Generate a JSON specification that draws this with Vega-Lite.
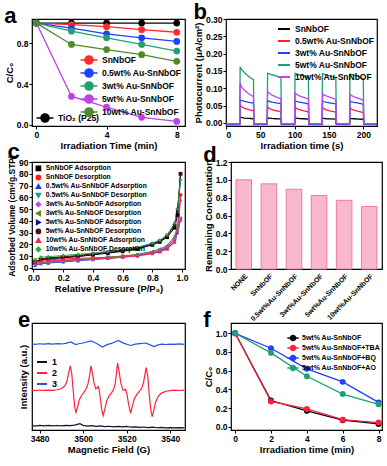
{
"$schema":"https://vega.github.io/schema/vega-lite/v6.json",
"padding":{"left":3,"top":0,"right":2,"bottom":0},
"background":"white",
"config":{
 "view":{"stroke":"black","strokeWidth":1.2},
 "axis":{"labelFont":"Liberation Sans","titleFont":"Liberation Sans","labelFontWeight":"bold","titleFontWeight":"bold","labelFontSize":8.5,"titleFontSize":9.5,"labelColor":"black","titleColor":"black","tickColor":"black","domain":false,"grid":false,"tickSize":3,"labelPadding":1,"titlePadding":2},
 "legend":{"labelFont":"Liberation Sans","labelFontWeight":"bold","labelColor":"black","labelFontSize":8,"orient":"none","title":null},
 "title":{"font":"Liberation Sans","fontSize":22,"fontWeight":"bold","anchor":"start","frame":"bounds","offset":-9,"color":"black"}
},
"datasets":{
 "a":[
  {"s":"SnNbOF","t":0,"v":1},{"s":"SnNbOF","t":2,"v":0.985},{"s":"SnNbOF","t":4,"v":0.965},{"s":"SnNbOF","t":6,"v":0.935},{"s":"SnNbOF","t":8,"v":0.91},
  {"s":"0.5wt%","t":0,"v":1},{"s":"0.5wt%","t":2,"v":0.95},{"s":"0.5wt%","t":4,"v":0.895},{"s":"0.5wt%","t":6,"v":0.855},{"s":"0.5wt%","t":8,"v":0.82},
  {"s":"3wt%","t":0,"v":1},{"s":"3wt%","t":2,"v":0.92},{"s":"3wt%","t":4,"v":0.855},{"s":"3wt%","t":6,"v":0.79},{"s":"3wt%","t":8,"v":0.725},
  {"s":"5wt%","t":0,"v":1},{"s":"5wt%","t":2,"v":0.28},{"s":"5wt%","t":4,"v":0.175},{"s":"5wt%","t":6,"v":0.075},{"s":"5wt%","t":8,"v":0.035},
  {"s":"10wt%","t":0,"v":1},{"s":"10wt%","t":2,"v":0.79},{"s":"10wt%","t":4,"v":0.74},{"s":"10wt%","t":6,"v":0.69},{"s":"10wt%","t":8,"v":0.625}
 ],
 "a2":[
  {"s":"TiO₂ (P25)","t":0,"v":1},{"s":"TiO₂ (P25)","t":2,"v":1},{"s":"TiO₂ (P25)","t":4,"v":1},{"s":"TiO₂ (P25)","t":6,"v":1},{"s":"TiO₂ (P25)","t":8,"v":1}
 ],
 "b":[
  {"s":"SnNbOF","t":0,"v":-0.003},{"s":"SnNbOF","t":20,"v":-0.003},{"s":"SnNbOF","t":20.6,"v":0.018},{"s":"SnNbOF","t":22.5,"v":0.016},{"s":"SnNbOF","t":27,"v":0.014},{"s":"SnNbOF","t":33,"v":0.013},{"s":"SnNbOF","t":40,"v":0.012},{"s":"SnNbOF","t":40.8,"v":-0.003},
  {"s":"SnNbOF","t":60,"v":-0.003},{"s":"SnNbOF","t":60.6,"v":0.015},{"s":"SnNbOF","t":62.5,"v":0.014},{"s":"SnNbOF","t":67,"v":0.013},{"s":"SnNbOF","t":73,"v":0.012},{"s":"SnNbOF","t":80,"v":0.0115},{"s":"SnNbOF","t":80.8,"v":-0.003},
  {"s":"SnNbOF","t":100,"v":-0.003},{"s":"SnNbOF","t":100.6,"v":0.014},{"s":"SnNbOF","t":102.5,"v":0.0135},{"s":"SnNbOF","t":107,"v":0.0125},{"s":"SnNbOF","t":113,"v":0.012},{"s":"SnNbOF","t":120,"v":0.011},{"s":"SnNbOF","t":120.8,"v":-0.003},
  {"s":"SnNbOF","t":140,"v":-0.003},{"s":"SnNbOF","t":140.6,"v":0.014},{"s":"SnNbOF","t":142.5,"v":0.013},{"s":"SnNbOF","t":147,"v":0.012},{"s":"SnNbOF","t":153,"v":0.0115},{"s":"SnNbOF","t":160,"v":0.011},{"s":"SnNbOF","t":160.8,"v":-0.003},
  {"s":"SnNbOF","t":180,"v":-0.003},{"s":"SnNbOF","t":180.6,"v":0.013},{"s":"SnNbOF","t":182.5,"v":0.0125},{"s":"SnNbOF","t":187,"v":0.012},{"s":"SnNbOF","t":193,"v":0.011},{"s":"SnNbOF","t":200,"v":0.0105},{"s":"SnNbOF","t":200.8,"v":-0.003},{"s":"SnNbOF","t":220,"v":-0.003},
  {"s":"0.5wt%","t":0,"v":-0.006},{"s":"0.5wt%","t":20,"v":-0.006},{"s":"0.5wt%","t":20.6,"v":0.052},{"s":"0.5wt%","t":22.5,"v":0.047},{"s":"0.5wt%","t":27,"v":0.042},{"s":"0.5wt%","t":33,"v":0.038},{"s":"0.5wt%","t":40,"v":0.035},{"s":"0.5wt%","t":40.8,"v":-0.005},
  {"s":"0.5wt%","t":60,"v":-0.005},{"s":"0.5wt%","t":60.6,"v":0.046},{"s":"0.5wt%","t":62.5,"v":0.042},{"s":"0.5wt%","t":67,"v":0.038},{"s":"0.5wt%","t":73,"v":0.035},{"s":"0.5wt%","t":80,"v":0.033},{"s":"0.5wt%","t":80.8,"v":-0.005},
  {"s":"0.5wt%","t":100,"v":-0.005},{"s":"0.5wt%","t":100.6,"v":0.046},{"s":"0.5wt%","t":102.5,"v":0.042},{"s":"0.5wt%","t":107,"v":0.038},{"s":"0.5wt%","t":113,"v":0.035},{"s":"0.5wt%","t":120,"v":0.032},{"s":"0.5wt%","t":120.8,"v":-0.005},
  {"s":"0.5wt%","t":140,"v":-0.005},{"s":"0.5wt%","t":140.6,"v":0.045},{"s":"0.5wt%","t":142.5,"v":0.041},{"s":"0.5wt%","t":147,"v":0.037},{"s":"0.5wt%","t":153,"v":0.034},{"s":"0.5wt%","t":160,"v":0.031},{"s":"0.5wt%","t":160.8,"v":-0.005},
  {"s":"0.5wt%","t":180,"v":-0.005},{"s":"0.5wt%","t":180.6,"v":0.044},{"s":"0.5wt%","t":182.5,"v":0.04},{"s":"0.5wt%","t":187,"v":0.036},{"s":"0.5wt%","t":193,"v":0.033},{"s":"0.5wt%","t":200,"v":0.03},{"s":"0.5wt%","t":200.8,"v":-0.005},{"s":"0.5wt%","t":220,"v":-0.005},
  {"s":"3wt%","t":0,"v":-0.004},{"s":"3wt%","t":20,"v":-0.004},{"s":"3wt%","t":20.6,"v":0.067},{"s":"3wt%","t":22.5,"v":0.065},{"s":"3wt%","t":27,"v":0.062},{"s":"3wt%","t":33,"v":0.059},{"s":"3wt%","t":40,"v":0.057},{"s":"3wt%","t":40.8,"v":-0.004},
  {"s":"3wt%","t":60,"v":-0.004},{"s":"3wt%","t":60.6,"v":0.065},{"s":"3wt%","t":62.5,"v":0.062},{"s":"3wt%","t":67,"v":0.06},{"s":"3wt%","t":73,"v":0.058},{"s":"3wt%","t":80,"v":0.056},{"s":"3wt%","t":80.8,"v":-0.004},
  {"s":"3wt%","t":100,"v":-0.004},{"s":"3wt%","t":100.6,"v":0.064},{"s":"3wt%","t":102.5,"v":0.062},{"s":"3wt%","t":107,"v":0.06},{"s":"3wt%","t":113,"v":0.058},{"s":"3wt%","t":120,"v":0.055},{"s":"3wt%","t":120.8,"v":-0.004},
  {"s":"3wt%","t":140,"v":-0.004},{"s":"3wt%","t":140.6,"v":0.064},{"s":"3wt%","t":142.5,"v":0.061},{"s":"3wt%","t":147,"v":0.059},{"s":"3wt%","t":153,"v":0.057},{"s":"3wt%","t":160,"v":0.055},{"s":"3wt%","t":160.8,"v":-0.004},
  {"s":"3wt%","t":180,"v":-0.004},{"s":"3wt%","t":180.6,"v":0.063},{"s":"3wt%","t":182.5,"v":0.061},{"s":"3wt%","t":187,"v":0.059},{"s":"3wt%","t":193,"v":0.057},{"s":"3wt%","t":200,"v":0.054},{"s":"3wt%","t":200.8,"v":-0.004},{"s":"3wt%","t":220,"v":-0.004},
  {"s":"5wt%","t":0,"v":-0.002},{"s":"5wt%","t":20,"v":-0.002},{"s":"5wt%","t":20.6,"v":0.162},{"s":"5wt%","t":22.5,"v":0.155},{"s":"5wt%","t":27,"v":0.145},{"s":"5wt%","t":33,"v":0.134},{"s":"5wt%","t":40,"v":0.125},{"s":"5wt%","t":40.8,"v":-0.002},
  {"s":"5wt%","t":60,"v":-0.002},{"s":"5wt%","t":60.6,"v":0.143},{"s":"5wt%","t":62.5,"v":0.142},{"s":"5wt%","t":67,"v":0.139},{"s":"5wt%","t":73,"v":0.136},{"s":"5wt%","t":80,"v":0.131},{"s":"5wt%","t":80.8,"v":-0.002},
  {"s":"5wt%","t":100,"v":-0.002},{"s":"5wt%","t":100.6,"v":0.143},{"s":"5wt%","t":102.5,"v":0.142},{"s":"5wt%","t":107,"v":0.139},{"s":"5wt%","t":113,"v":0.136},{"s":"5wt%","t":120,"v":0.131},{"s":"5wt%","t":120.8,"v":-0.002},
  {"s":"5wt%","t":140,"v":-0.002},{"s":"5wt%","t":140.6,"v":0.142},{"s":"5wt%","t":142.5,"v":0.141},{"s":"5wt%","t":147,"v":0.138},{"s":"5wt%","t":153,"v":0.135},{"s":"5wt%","t":160,"v":0.13},{"s":"5wt%","t":160.8,"v":-0.002},
  {"s":"5wt%","t":180,"v":-0.002},{"s":"5wt%","t":180.6,"v":0.141},{"s":"5wt%","t":182.5,"v":0.14},{"s":"5wt%","t":187,"v":0.137},{"s":"5wt%","t":193,"v":0.134},{"s":"5wt%","t":200,"v":0.128},{"s":"5wt%","t":200.8,"v":-0.002},{"s":"5wt%","t":220,"v":-0.002},
  {"s":"10wt%","t":0,"v":-0.003},{"s":"10wt%","t":20,"v":-0.003},{"s":"10wt%","t":20.6,"v":0.115},{"s":"10wt%","t":22.5,"v":0.104},{"s":"10wt%","t":27,"v":0.094},{"s":"10wt%","t":33,"v":0.084},{"s":"10wt%","t":40,"v":0.076},{"s":"10wt%","t":40.8,"v":-0.003},
  {"s":"10wt%","t":60,"v":-0.003},{"s":"10wt%","t":60.6,"v":0.091},{"s":"10wt%","t":62.5,"v":0.086},{"s":"10wt%","t":67,"v":0.08},{"s":"10wt%","t":73,"v":0.075},{"s":"10wt%","t":80,"v":0.07},{"s":"10wt%","t":80.8,"v":-0.003},
  {"s":"10wt%","t":100,"v":-0.003},{"s":"10wt%","t":100.6,"v":0.087},{"s":"10wt%","t":102.5,"v":0.083},{"s":"10wt%","t":107,"v":0.078},{"s":"10wt%","t":113,"v":0.074},{"s":"10wt%","t":120,"v":0.069},{"s":"10wt%","t":120.8,"v":-0.003},
  {"s":"10wt%","t":140,"v":-0.003},{"s":"10wt%","t":140.6,"v":0.085},{"s":"10wt%","t":142.5,"v":0.081},{"s":"10wt%","t":147,"v":0.077},{"s":"10wt%","t":153,"v":0.073},{"s":"10wt%","t":160,"v":0.068},{"s":"10wt%","t":160.8,"v":-0.003},
  {"s":"10wt%","t":180,"v":-0.003},{"s":"10wt%","t":180.6,"v":0.083},{"s":"10wt%","t":182.5,"v":0.079},{"s":"10wt%","t":187,"v":0.075},{"s":"10wt%","t":193,"v":0.071},{"s":"10wt%","t":200,"v":0.066},{"s":"10wt%","t":200.8,"v":-0.003},{"s":"10wt%","t":220,"v":-0.003}
 ],
 "c":[
  {"s":"SnNbOF Adsorption","p":0.01,"v":4},{"s":"SnNbOF Adsorption","p":0.05,"v":6.5},{"s":"SnNbOF Adsorption","p":0.1,"v":7.5},{"s":"SnNbOF Adsorption","p":0.2,"v":8.5},{"s":"SnNbOF Adsorption","p":0.3,"v":9.5},{"s":"SnNbOF Adsorption","p":0.4,"v":11},{"s":"SnNbOF Adsorption","p":0.5,"v":12.5},{"s":"SnNbOF Adsorption","p":0.6,"v":14},{"s":"SnNbOF Adsorption","p":0.7,"v":16},{"s":"SnNbOF Adsorption","p":0.8,"v":19.5},{"s":"SnNbOF Adsorption","p":0.85,"v":22},{"s":"SnNbOF Adsorption","p":0.9,"v":26},{"s":"SnNbOF Adsorption","p":0.95,"v":34},{"s":"SnNbOF Adsorption","p":0.97,"v":45},{"s":"SnNbOF Adsorption","p":0.99,"v":80},
  {"s":"SnNbOF Desorption","p":0.01,"v":6},{"s":"SnNbOF Desorption","p":0.05,"v":6.5},{"s":"SnNbOF Desorption","p":0.1,"v":7},{"s":"SnNbOF Desorption","p":0.2,"v":7.5},{"s":"SnNbOF Desorption","p":0.3,"v":8},{"s":"SnNbOF Desorption","p":0.4,"v":8.5},{"s":"SnNbOF Desorption","p":0.5,"v":9},{"s":"SnNbOF Desorption","p":0.6,"v":10},{"s":"SnNbOF Desorption","p":0.7,"v":11},{"s":"SnNbOF Desorption","p":0.8,"v":13},{"s":"SnNbOF Desorption","p":0.85,"v":14.5},{"s":"SnNbOF Desorption","p":0.9,"v":17},{"s":"SnNbOF Desorption","p":0.95,"v":24},{"s":"SnNbOF Desorption","p":0.97,"v":35},{"s":"SnNbOF Desorption","p":0.99,"v":62},
  {"s":"0.5wt% Au-SnNbOF Adsorption","p":0.01,"v":2},{"s":"0.5wt% Au-SnNbOF Adsorption","p":0.05,"v":3.5},{"s":"0.5wt% Au-SnNbOF Adsorption","p":0.1,"v":4},{"s":"0.5wt% Au-SnNbOF Adsorption","p":0.2,"v":5},{"s":"0.5wt% Au-SnNbOF Adsorption","p":0.3,"v":6},{"s":"0.5wt% Au-SnNbOF Adsorption","p":0.4,"v":7},{"s":"0.5wt% Au-SnNbOF Adsorption","p":0.5,"v":8},{"s":"0.5wt% Au-SnNbOF Adsorption","p":0.6,"v":9},{"s":"0.5wt% Au-SnNbOF Adsorption","p":0.7,"v":10.5},{"s":"0.5wt% Au-SnNbOF Adsorption","p":0.8,"v":12.5},{"s":"0.5wt% Au-SnNbOF Adsorption","p":0.85,"v":14},{"s":"0.5wt% Au-SnNbOF Adsorption","p":0.9,"v":16.5},{"s":"0.5wt% Au-SnNbOF Adsorption","p":0.95,"v":22},{"s":"0.5wt% Au-SnNbOF Adsorption","p":0.97,"v":30},{"s":"0.5wt% Au-SnNbOF Adsorption","p":0.99,"v":41},
  {"s":"0.5wt% Au-SnNbOF Desorption","p":0.01,"v":2.5},{"s":"0.5wt% Au-SnNbOF Desorption","p":0.05,"v":4},{"s":"0.5wt% Au-SnNbOF Desorption","p":0.1,"v":4.5},{"s":"0.5wt% Au-SnNbOF Desorption","p":0.2,"v":5.5},{"s":"0.5wt% Au-SnNbOF Desorption","p":0.3,"v":6.5},{"s":"0.5wt% Au-SnNbOF Desorption","p":0.4,"v":7.5},{"s":"0.5wt% Au-SnNbOF Desorption","p":0.5,"v":8.5},{"s":"0.5wt% Au-SnNbOF Desorption","p":0.6,"v":9.5},{"s":"0.5wt% Au-SnNbOF Desorption","p":0.7,"v":11},{"s":"0.5wt% Au-SnNbOF Desorption","p":0.8,"v":13},{"s":"0.5wt% Au-SnNbOF Desorption","p":0.85,"v":15},{"s":"0.5wt% Au-SnNbOF Desorption","p":0.9,"v":18},{"s":"0.5wt% Au-SnNbOF Desorption","p":0.95,"v":24},{"s":"0.5wt% Au-SnNbOF Desorption","p":0.97,"v":32},{"s":"0.5wt% Au-SnNbOF Desorption","p":0.99,"v":42},
  {"s":"3wt% Au-SnNbOF Adsorption","p":0.01,"v":3},{"s":"3wt% Au-SnNbOF Adsorption","p":0.05,"v":4},{"s":"3wt% Au-SnNbOF Adsorption","p":0.1,"v":5},{"s":"3wt% Au-SnNbOF Adsorption","p":0.2,"v":6},{"s":"3wt% Au-SnNbOF Adsorption","p":0.3,"v":6.5},{"s":"3wt% Au-SnNbOF Adsorption","p":0.4,"v":7.5},{"s":"3wt% Au-SnNbOF Adsorption","p":0.5,"v":8.5},{"s":"3wt% Au-SnNbOF Adsorption","p":0.6,"v":9.5},{"s":"3wt% Au-SnNbOF Adsorption","p":0.7,"v":11},{"s":"3wt% Au-SnNbOF Adsorption","p":0.8,"v":13},{"s":"3wt% Au-SnNbOF Adsorption","p":0.85,"v":15},{"s":"3wt% Au-SnNbOF Adsorption","p":0.9,"v":18},{"s":"3wt% Au-SnNbOF Adsorption","p":0.95,"v":25},{"s":"3wt% Au-SnNbOF Adsorption","p":0.97,"v":35},{"s":"3wt% Au-SnNbOF Adsorption","p":0.99,"v":40},
  {"s":"3wt% Au-SnNbOF Desorption","p":0.01,"v":3.5},{"s":"3wt% Au-SnNbOF Desorption","p":0.05,"v":4.5},{"s":"3wt% Au-SnNbOF Desorption","p":0.1,"v":5},{"s":"3wt% Au-SnNbOF Desorption","p":0.2,"v":6},{"s":"3wt% Au-SnNbOF Desorption","p":0.3,"v":7},{"s":"3wt% Au-SnNbOF Desorption","p":0.4,"v":8},{"s":"3wt% Au-SnNbOF Desorption","p":0.5,"v":9},{"s":"3wt% Au-SnNbOF Desorption","p":0.6,"v":10},{"s":"3wt% Au-SnNbOF Desorption","p":0.7,"v":11.5},{"s":"3wt% Au-SnNbOF Desorption","p":0.8,"v":14},{"s":"3wt% Au-SnNbOF Desorption","p":0.85,"v":16},{"s":"3wt% Au-SnNbOF Desorption","p":0.9,"v":19},{"s":"3wt% Au-SnNbOF Desorption","p":0.95,"v":27},{"s":"3wt% Au-SnNbOF Desorption","p":0.97,"v":35},{"s":"3wt% Au-SnNbOF Desorption","p":0.99,"v":42},
  {"s":"5wt% Au-SnNbOF Adsorption","p":0.01,"v":4.5},{"s":"5wt% Au-SnNbOF Adsorption","p":0.05,"v":7},{"s":"5wt% Au-SnNbOF Adsorption","p":0.1,"v":8},{"s":"5wt% Au-SnNbOF Adsorption","p":0.2,"v":9},{"s":"5wt% Au-SnNbOF Adsorption","p":0.3,"v":10},{"s":"5wt% Au-SnNbOF Adsorption","p":0.4,"v":11.5},{"s":"5wt% Au-SnNbOF Adsorption","p":0.5,"v":13},{"s":"5wt% Au-SnNbOF Adsorption","p":0.6,"v":14.5},{"s":"5wt% Au-SnNbOF Adsorption","p":0.7,"v":16.5},{"s":"5wt% Au-SnNbOF Adsorption","p":0.8,"v":20},{"s":"5wt% Au-SnNbOF Adsorption","p":0.85,"v":22.5},{"s":"5wt% Au-SnNbOF Adsorption","p":0.9,"v":27},{"s":"5wt% Au-SnNbOF Adsorption","p":0.95,"v":36},{"s":"5wt% Au-SnNbOF Adsorption","p":0.97,"v":48},{"s":"5wt% Au-SnNbOF Adsorption","p":0.99,"v":75},
  {"s":"5wt% Au-SnNbOF Desorption","p":0.01,"v":5},{"s":"5wt% Au-SnNbOF Desorption","p":0.05,"v":7.5},{"s":"5wt% Au-SnNbOF Desorption","p":0.1,"v":8.5},{"s":"5wt% Au-SnNbOF Desorption","p":0.2,"v":9.5},{"s":"5wt% Au-SnNbOF Desorption","p":0.3,"v":10.5},{"s":"5wt% Au-SnNbOF Desorption","p":0.4,"v":12},{"s":"5wt% Au-SnNbOF Desorption","p":0.5,"v":13.5},{"s":"5wt% Au-SnNbOF Desorption","p":0.6,"v":15},{"s":"5wt% Au-SnNbOF Desorption","p":0.7,"v":17},{"s":"5wt% Au-SnNbOF Desorption","p":0.8,"v":20.5},{"s":"5wt% Au-SnNbOF Desorption","p":0.85,"v":23},{"s":"5wt% Au-SnNbOF Desorption","p":0.9,"v":27.5},{"s":"5wt% Au-SnNbOF Desorption","p":0.95,"v":37},{"s":"5wt% Au-SnNbOF Desorption","p":0.97,"v":50},{"s":"5wt% Au-SnNbOF Desorption","p":0.99,"v":80},
  {"s":"10wt% Au-SnNbOF Adsorption","p":0.01,"v":5},{"s":"10wt% Au-SnNbOF Adsorption","p":0.05,"v":5.5},{"s":"10wt% Au-SnNbOF Adsorption","p":0.1,"v":6},{"s":"10wt% Au-SnNbOF Adsorption","p":0.2,"v":6.5},{"s":"10wt% Au-SnNbOF Adsorption","p":0.3,"v":7},{"s":"10wt% Au-SnNbOF Adsorption","p":0.4,"v":7.5},{"s":"10wt% Au-SnNbOF Adsorption","p":0.5,"v":8},{"s":"10wt% Au-SnNbOF Adsorption","p":0.6,"v":9},{"s":"10wt% Au-SnNbOF Adsorption","p":0.7,"v":10},{"s":"10wt% Au-SnNbOF Adsorption","p":0.8,"v":12},{"s":"10wt% Au-SnNbOF Adsorption","p":0.85,"v":13.5},{"s":"10wt% Au-SnNbOF Adsorption","p":0.9,"v":16},{"s":"10wt% Au-SnNbOF Adsorption","p":0.95,"v":22},{"s":"10wt% Au-SnNbOF Adsorption","p":0.97,"v":32},{"s":"10wt% Au-SnNbOF Adsorption","p":0.99,"v":58},
  {"s":"10wt% Au-SnNbOF Desorption","p":0.01,"v":7},{"s":"10wt% Au-SnNbOF Desorption","p":0.05,"v":9},{"s":"10wt% Au-SnNbOF Desorption","p":0.1,"v":9.5},{"s":"10wt% Au-SnNbOF Desorption","p":0.2,"v":10.5},{"s":"10wt% Au-SnNbOF Desorption","p":0.3,"v":11.5},{"s":"10wt% Au-SnNbOF Desorption","p":0.4,"v":12.5},{"s":"10wt% Au-SnNbOF Desorption","p":0.5,"v":14},{"s":"10wt% Au-SnNbOF Desorption","p":0.6,"v":15.5},{"s":"10wt% Au-SnNbOF Desorption","p":0.7,"v":17.5},{"s":"10wt% Au-SnNbOF Desorption","p":0.8,"v":21},{"s":"10wt% Au-SnNbOF Desorption","p":0.85,"v":23.5},{"s":"10wt% Au-SnNbOF Desorption","p":0.9,"v":28},{"s":"10wt% Au-SnNbOF Desorption","p":0.95,"v":38},{"s":"10wt% Au-SnNbOF Desorption","p":0.97,"v":50},{"s":"10wt% Au-SnNbOF Desorption","p":0.99,"v":75}
 ],
 "d":[
  {"c":"NONE","v":1.0},{"c":"SnNbOF","v":0.955},{"c":"0.5wt%Au-SnNbOF","v":0.895},{"c":"3wt%Au-SnNbOF","v":0.825},{"c":"5wt%Au-SnNbOF","v":0.77},{"c":"10wt%Au-SnNbOF","v":0.70}
 ],
 "e":[
  {"s":"1","x":3476.5,"y":4.2},{"s":"1","x":3478,"y":3.7},{"s":"1","x":3480,"y":4.3},{"s":"1","x":3482,"y":3.9},{"s":"1","x":3484,"y":4.4},{"s":"1","x":3486,"y":3.8},{"s":"1","x":3488,"y":4.2},{"s":"1","x":3490,"y":3.9},{"s":"1","x":3492,"y":4.3},{"s":"1","x":3494,"y":4.1},{"s":"1","x":3496,"y":4.6},{"s":"1","x":3498.5,"y":5.9},{"s":"1","x":3500,"y":4.3},{"s":"1","x":3502,"y":3.6},{"s":"1","x":3504,"y":4},{"s":"1","x":3506,"y":3.4},{"s":"1","x":3508,"y":3.8},{"s":"1","x":3510,"y":3.2},{"s":"1","x":3512,"y":3.5},{"s":"1","x":3514,"y":3},{"s":"1","x":3516,"y":3.4},{"s":"1","x":3518,"y":2.9},{"s":"1","x":3520,"y":3.3},{"s":"1","x":3522,"y":2.6},{"s":"1","x":3524,"y":2.9},{"s":"1","x":3526,"y":2.5},{"s":"1","x":3528,"y":2.8},{"s":"1","x":3530,"y":2.2},{"s":"1","x":3532,"y":2.6},{"s":"1","x":3534,"y":2.1},{"s":"1","x":3536,"y":2.4},{"s":"1","x":3538,"y":2},{"s":"1","x":3540,"y":2.3},{"s":"1","x":3542,"y":1.9},{"s":"1","x":3544,"y":2.2},{"s":"1","x":3546.5,"y":2},
  {"s":"2","x":3476.5,"y":37.2},{"s":"2","x":3478,"y":36.8},{"s":"2","x":3480,"y":37.4},{"s":"2","x":3482,"y":37},{"s":"2","x":3484,"y":37.3},{"s":"2","x":3486,"y":37.1},{"s":"2","x":3488,"y":37.6},{"s":"2","x":3489.5,"y":38.3},{"s":"2","x":3490.8,"y":39.8},{"s":"2","x":3491.8,"y":42},{"s":"2","x":3492.6,"y":46},{"s":"2","x":3493.3,"y":53},{"s":"2","x":3494.1,"y":60},{"s":"2","x":3494.8,"y":52},{"s":"2","x":3495.5,"y":35},{"s":"2","x":3496.1,"y":22},{"s":"2","x":3496.7,"y":16.5},{"s":"2","x":3497.4,"y":21},{"s":"2","x":3498.2,"y":28},{"s":"2","x":3499.2,"y":32},{"s":"2","x":3500.3,"y":35},{"s":"2","x":3501.3,"y":38},{"s":"2","x":3502.2,"y":43},{"s":"2","x":3502.9,"y":50},{"s":"2","x":3503.6,"y":60},{"s":"2","x":3504.3,"y":53},{"s":"2","x":3505,"y":44},{"s":"2","x":3505.8,"y":38.5},{"s":"2","x":3506.4,"y":39.5},{"s":"2","x":3506.9,"y":40.6},{"s":"2","x":3507.4,"y":37},{"s":"2","x":3508,"y":28},{"s":"2","x":3508.6,"y":18},{"s":"2","x":3509.2,"y":13.4},{"s":"2","x":3509.9,"y":19},{"s":"2","x":3510.8,"y":27},{"s":"2","x":3511.8,"y":31.5},{"s":"2","x":3513,"y":34.5},{"s":"2","x":3514,"y":38},{"s":"2","x":3514.8,"y":44},{"s":"2","x":3515.3,"y":53},{"s":"2","x":3515.8,"y":62.5},{"s":"2","x":3516.5,"y":55},{"s":"2","x":3517.3,"y":44},{"s":"2","x":3518.3,"y":37.5},{"s":"2","x":3519,"y":37},{"s":"2","x":3519.5,"y":38},{"s":"2","x":3520.1,"y":34},{"s":"2","x":3520.8,"y":25},{"s":"2","x":3521.8,"y":15.6},{"s":"2","x":3522.6,"y":22},{"s":"2","x":3523.5,"y":29},{"s":"2","x":3524.6,"y":33},{"s":"2","x":3525.8,"y":36},{"s":"2","x":3527,"y":39.5},{"s":"2","x":3527.8,"y":45},{"s":"2","x":3528.4,"y":52},{"s":"2","x":3529,"y":58.4},{"s":"2","x":3529.7,"y":50},{"s":"2","x":3530.3,"y":35},{"s":"2","x":3531,"y":20},{"s":"2","x":3531.7,"y":12.5},{"s":"2","x":3532.4,"y":18},{"s":"2","x":3533.3,"y":26},{"s":"2","x":3534.5,"y":31.5},{"s":"2","x":3536,"y":34.5},{"s":"2","x":3538,"y":36.2},{"s":"2","x":3540,"y":36.8},{"s":"2","x":3542,"y":37.3},{"s":"2","x":3544,"y":36.9},{"s":"2","x":3546.5,"y":37.2},
  {"s":"3","x":3476.5,"y":80.5},{"s":"3","x":3478,"y":80.1},{"s":"3","x":3480,"y":80.6},{"s":"3","x":3482,"y":80.2},{"s":"3","x":3484,"y":80.7},{"s":"3","x":3486,"y":80.3},{"s":"3","x":3488,"y":80.8},{"s":"3","x":3490,"y":80.4},{"s":"3","x":3492,"y":81},{"s":"3","x":3494.4,"y":82.3},{"s":"3","x":3496.5,"y":79.8},{"s":"3","x":3498,"y":80.6},{"s":"3","x":3500,"y":81.3},{"s":"3","x":3503.6,"y":83.3},{"s":"3","x":3506,"y":81},{"s":"3","x":3508.9,"y":77.5},{"s":"3","x":3511,"y":79.8},{"s":"3","x":3513,"y":80.9},{"s":"3","x":3516.2,"y":83.7},{"s":"3","x":3518.5,"y":81.2},{"s":"3","x":3521.8,"y":79},{"s":"3","x":3524,"y":80.3},{"s":"3","x":3526,"y":80.8},{"s":"3","x":3528.7,"y":81.3},{"s":"3","x":3530.5,"y":79.8},{"s":"3","x":3532.5,"y":78},{"s":"3","x":3534.5,"y":79.6},{"s":"3","x":3536,"y":80.2},{"s":"3","x":3538,"y":79.9},{"s":"3","x":3540,"y":80.3},{"s":"3","x":3542,"y":80},{"s":"3","x":3544,"y":80.4},{"s":"3","x":3546.5,"y":80.1}
 ],
 "f":[
  {"s":"5wt% Au-SnNbOF","t":0,"v":1},{"s":"5wt% Au-SnNbOF","t":2,"v":0.28},{"s":"5wt% Au-SnNbOF","t":4,"v":0.17},{"s":"5wt% Au-SnNbOF","t":6,"v":0.07},{"s":"5wt% Au-SnNbOF","t":8,"v":0.03},
  {"s":"5wt% Au-SnNbOF+TBA","t":0,"v":1},{"s":"5wt% Au-SnNbOF+TBA","t":2,"v":0.27},{"s":"5wt% Au-SnNbOF+TBA","t":4,"v":0.19},{"s":"5wt% Au-SnNbOF+TBA","t":6,"v":0.075},{"s":"5wt% Au-SnNbOF+TBA","t":8,"v":0.045},
  {"s":"5wt% Au-SnNbOF+BQ","t":0,"v":1},{"s":"5wt% Au-SnNbOF+BQ","t":2,"v":0.84},{"s":"5wt% Au-SnNbOF+BQ","t":4,"v":0.62},{"s":"5wt% Au-SnNbOF+BQ","t":6,"v":0.48},{"s":"5wt% Au-SnNbOF+BQ","t":8,"v":0.26},
  {"s":"5wt% Au-SnNbOF+AO","t":0,"v":1},{"s":"5wt% Au-SnNbOF+AO","t":2,"v":0.79},{"s":"5wt% Au-SnNbOF+AO","t":4,"v":0.54},{"s":"5wt% Au-SnNbOF+AO","t":6,"v":0.35},{"s":"5wt% Au-SnNbOF+AO","t":8,"v":0.24}
 ]
},
"vconcat":[
 {"vconcat":[
  {"hconcat":[
   {"width":153,"height":107,"title":{"text":"a"},
    "layer":[
     {"data":{"name":"a2"},"mark":{"type":"line","strokeWidth":1.3,"point":{"filled":true,"size":45}},
      "encoding":{"x":{"field":"t","type":"quantitative"},"y":{"field":"v","type":"quantitative"},
       "color":{"field":"s","type":"nominal","scale":{"domain":["TiO₂ (P25)"],"range":["#000000"]},
        "legend":{"legendX":8,"legendY":94,"symbolType":"M-2,0L2,0M0.95,0A0.95,0.95,0,1,1,-0.95,0A0.95,0.95,0,1,1,0.95,0Z","symbolSize":72,"symbolStrokeWidth":1.5,"labelOffset":8,"labelFontSize":8.5}}}},
     {"data":{"name":"a"},"mark":{"type":"line","strokeWidth":1.3,"point":{"filled":true,"size":45}},
      "encoding":{
       "x":{"field":"t","type":"quantitative","title":"Irradiation Time (min)","scale":{"domain":[-0.25,8.47],"nice":false,"zero":false},"axis":{"values":[0,2,4,6,8]}},
       "y":{"field":"v","type":"quantitative","title":"C/C₀","scale":{"domain":[-0.01,1.04],"nice":false,"zero":false},"axis":{"values":[0,0.2,0.4,0.6,0.8,1.0],"format":".1f"}},
       "color":{"field":"s","type":"nominal","sort":["SnNbOF","0.5wt%","3wt%","5wt%","10wt%"],"scale":{"domain":["SnNbOF","0.5wt%","3wt%","5wt%","10wt%"],"range":["#ff2a2a","#2040ff","#22a070","#c040e8","#4f8a2a"]},
        "legend":{"legendX":52,"legendY":36,"symbolType":"M-2,0L2,0M0.95,0A0.95,0.95,0,1,1,-0.95,0A0.95,0.95,0,1,1,0.95,0Z","symbolSize":72,"symbolStrokeWidth":1.5,"labelOffset":8,"rowPadding":-8,"labelFontSize":8.5,"labelExpr":"datum.label == 'SnNbOF' ? 'SnNbOF' : datum.label + ' Au-SnNbOF'"}}}}
    ],
    "resolve":{"scale":{"color":"independent"},"legend":{"color":"independent"}}
   },
   {"width":151,"height":107,"title":{"text":"b"},
    "data":{"name":"b"},
    "mark":{"type":"line","strokeWidth":1.3},
    "encoding":{
     "x":{"field":"t","type":"quantitative","title":"Irradiation time (s)","scale":{"domain":[0,220],"nice":false},"axis":{"values":[0,50,100,150,200]}},
     "y":{"field":"v","type":"quantitative","title":"Photocurrent (μA/cm²)","scale":{"domain":[-0.009,0.30],"nice":false,"zero":false},"axis":{"values":[0,0.05,0.1,0.15,0.2,0.25,0.3],"format":".2f"}},
     "color":{"field":"s","type":"nominal","sort":["SnNbOF","0.5wt%","3wt%","5wt%","10wt%"],"scale":{"domain":["SnNbOF","0.5wt%","3wt%","5wt%","10wt%"],"range":["#000000","#ff2040","#2040ff","#20a070","#c040ff"]},
      "legend":{"legendX":51,"legendY":3,"symbolType":"stroke","symbolSize":144,"symbolStrokeWidth":2,"rowPadding":-6,"labelFontSize":8.5,"labelExpr":"datum.label == 'SnNbOF' ? 'SnNbOF' : datum.label + ' Au-SnNbOF'"}}
    }
   }
  ],"spacing":6,"resolve":{"scale":{"color":"independent","shape":"independent"},"legend":{"color":"independent","shape":"independent"}}},
  {"hconcat":[
   {"width":153,"height":107,"title":{"text":"c"},
    "data":{"name":"c"},
    "mark":{"type":"line","strokeWidth":1,"point":{"filled":true,"size":14}},
    "encoding":{
     "x":{"field":"p","type":"quantitative","title":"Relative Pressure (P/P₀)","scale":{"domain":[-0.01,1.02],"nice":false,"zero":false},"axis":{"values":[0,0.2,0.4,0.6,0.8,1.0],"format":".1f"}},
     "y":{"field":"v","type":"quantitative","title":"Adsorbed Volume (cm³/g.STP)","scale":{"domain":[-1,90],"nice":false,"zero":false},"axis":{"values":[0,10,20,30,40,50,60,70,80,90],"titleFontSize":8.5}},
     "color":{"field":"s","type":"nominal","sort":null,"scale":{"domain":["SnNbOF Adsorption","SnNbOF Desorption","0.5wt% Au-SnNbOF Adsorption","0.5wt% Au-SnNbOF Desorption","3wt% Au-SnNbOF Adsorption","3wt% Au-SnNbOF Desorption","5wt% Au-SnNbOF Adsorption","5wt% Au-SnNbOF Desorption","10wt% Au-SnNbOF Adsorption","10wt% Au-SnNbOF Desorption"],"range":["#000000","#ff1a1a","#1a3cff","#18a080","#c040ff","#5a8a20","#10108a","#5a0a14","#ff2060","#20b040"]},
      "legend":{"legendX":3,"legendY":3,"symbolSize":18,"rowPadding":-5,"labelFontSize":6.8,"labelOffset":4}},
     "shape":{"field":"s","type":"nominal","sort":null,"scale":{"domain":["SnNbOF Adsorption","SnNbOF Desorption","0.5wt% Au-SnNbOF Adsorption","0.5wt% Au-SnNbOF Desorption","3wt% Au-SnNbOF Adsorption","3wt% Au-SnNbOF Desorption","5wt% Au-SnNbOF Adsorption","5wt% Au-SnNbOF Desorption","10wt% Au-SnNbOF Adsorption","10wt% Au-SnNbOF Desorption"],"range":["square","circle","triangle-up","triangle-down","diamond","triangle-left","triangle-right","circle","triangle-up","diamond"]}}
    }
   },
   {"width":151,"height":107,"title":{"text":"d"},
    "data":{"name":"d"},
    "mark":{"type":"bar","fill":"#f9b8cc","stroke":"#f07a9e","strokeWidth":1},
    "encoding":{
     "x":{"field":"c","type":"nominal","sort":null,"title":null,"scale":{"paddingInner":0.38,"paddingOuter":0.2},"axis":{"labelAngle":-45,"labelFontSize":7,"ticks":false,"labelPadding":3}},
     "y":{"field":"v","type":"quantitative","title":"Remaining Concentation","scale":{"domain":[0,1.2],"nice":false},"axis":{"values":[0,0.2,0.4,0.6,0.8,1.0,1.2],"format":".1f"}}
    }
   }
  ],"spacing":13,"resolve":{"scale":{"color":"independent","shape":"independent"},"legend":{"color":"independent","shape":"independent"}}}
 ],"spacing":-11,"resolve":{"scale":{"color":"independent","shape":"independent"},"legend":{"color":"independent","shape":"independent"}}},
 {"hconcat":[
  {"width":153,"height":107,"title":{"text":"e"},
   "data":{"name":"e"},
   "mark":{"type":"line","strokeWidth":1.2},
   "encoding":{
    "x":{"field":"x","type":"quantitative","title":"Magnetic Field (G)","scale":{"domain":[3476.5,3546.8],"nice":false,"zero":false},"axis":{"values":[3480,3500,3520,3540],"format":"d"}},
    "y":{"field":"y","type":"quantitative","title":"Intensity (a.u.)","scale":{"domain":[0,100],"nice":false},"axis":{"labels":false,"ticks":false,"titlePadding":4}},
    "color":{"field":"s","type":"nominal","scale":{"domain":["1","2","3"],"range":["#101030","#ff2040","#2a50e0"]},
     "legend":{"legendX":4,"legendY":33,"symbolType":"stroke","symbolSize":100,"symbolStrokeWidth":2,"rowPadding":-0.5,"labelFontSize":9}}
   }
  },
  {"width":151,"height":107,"title":{"text":"f"},
   "data":{"name":"f"},
   "mark":{"type":"line","strokeWidth":1.3,"point":{"filled":true,"size":35}},
   "encoding":{
    "x":{"field":"t","type":"quantitative","title":"Irradiation time (min)","scale":{"domain":[-0.23,8.19],"nice":false,"zero":false},"axis":{"values":[0,2,4,6,8]}},
    "y":{"field":"v","type":"quantitative","title":"C/C₀","scale":{"domain":[-0.035,1.11],"nice":false,"zero":false},"axis":{"values":[0,0.2,0.4,0.6,0.8,1.0],"format":".1f"}},
    "color":{"field":"s","type":"nominal","sort":null,"scale":{"domain":["5wt% Au-SnNbOF","5wt% Au-SnNbOF+TBA","5wt% Au-SnNbOF+BQ","5wt% Au-SnNbOF+AO"],"range":["#000000","#ff2040","#2040ff","#20a070"]},
     "legend":{"legendX":58,"legendY":11,"symbolType":"M-2,0L2,0M0.9,0A0.9,0.9,0,1,1,-0.9,0A0.9,0.9,0,1,1,0.9,0Z","symbolSize":32,"symbolStrokeWidth":1.5,"labelOffset":5,"rowPadding":-8,"labelFontSize":7}}
   }
  }
 ],"spacing":14,"resolve":{"scale":{"color":"independent","shape":"independent"},"legend":{"color":"independent","shape":"independent"}}}
],
"spacing":-28,
"resolve":{"scale":{"color":"independent","shape":"independent"},"legend":{"color":"independent","shape":"independent"}}
}
